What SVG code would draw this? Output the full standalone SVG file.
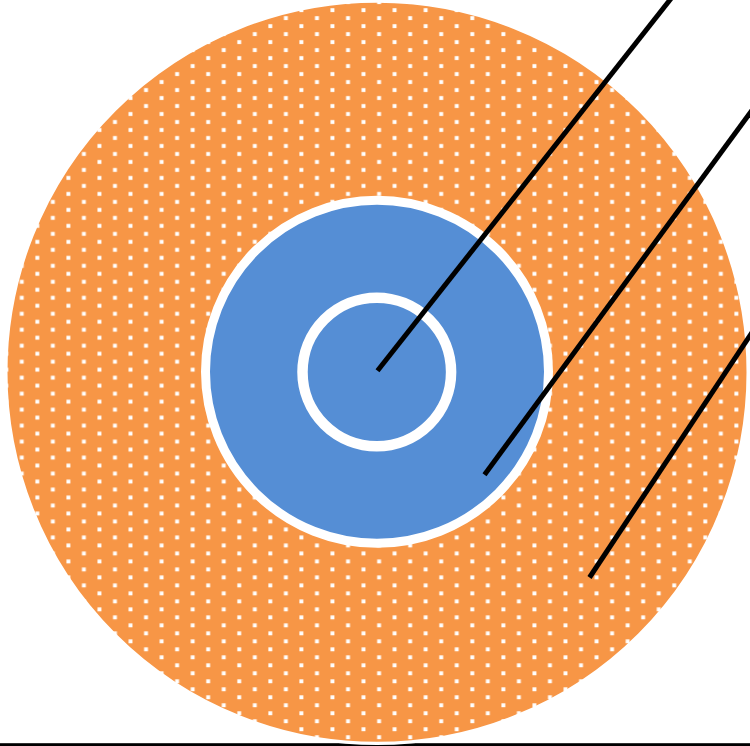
<svg xmlns="http://www.w3.org/2000/svg" width="750" height="746" viewBox="0 0 750 746">
  <style>
    .ring { stroke: #FFFFFF; }
    .conn { stroke: #000000; stroke-width: 5; fill: none; stroke-linecap: butt; }
  </style>
  <defs>
    <pattern id="dots" patternUnits="userSpaceOnUse" x="0" y="0" width="31.07" height="15.98">
      <rect width="31.07" height="15.98" fill="#F79646"/>
      <rect x="19.8" y="8.2" width="3.9" height="3.9" fill="#FFFFFF"/>
      <rect x="4.3" y="0.2" width="3.9" height="3.9" fill="#FFFFFF"/>
    </pattern>
  </defs>
  <rect id="background" width="750" height="746" fill="#FFFFFF"/>
  <rect id="baseline" x="0" y="743.2" width="750" height="4" fill="#000000"/>
  <g id="outer-layer">
    <circle class="ring" cx="377" cy="372.2" r="371.2" fill="url(#dots)" stroke-width="3.4"/>
  </g>
  <g id="middle-layer">
    <circle class="ring" cx="377" cy="371.8" r="171.5" fill="#558ED5" stroke-width="9"/>
  </g>
  <g id="inner-layer">
    <circle class="ring" cx="376.8" cy="372" r="74.3" fill="#558ED5" stroke-width="10.5"/>
  </g>
  <g id="connectors">
    <line class="conn" x1="377.5" y1="370.7" x2="673" y2="-4"/>
    <line class="conn" x1="484.5" y1="474.8" x2="757" y2="103.5"/>
    <line class="conn" x1="589.5" y1="577.5" x2="757" y2="325"/>
  </g>
</svg>
